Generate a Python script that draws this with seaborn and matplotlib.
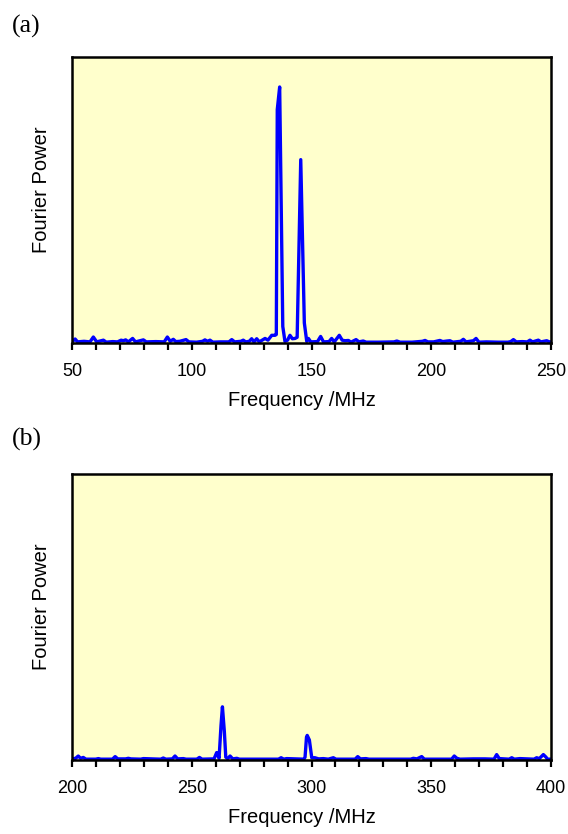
import matplotlib
matplotlib.use("Agg")
import matplotlib.pyplot as plt
import seaborn as sns
import pandas as pd
from matplotlib.ticker import MultipleLocator

# Spectrum (a): frequency in MHz and normalised Fourier power
freq_a = [50.0, 51.3, 52.3, 55.0, 57.5, 58.9, 60.3, 63.1, 64.3, 67.0, 69.0, 70.5,
          71.4, 72.4, 73.5, 75.3, 76.5, 79.8, 81.0, 85.0, 88.5, 89.8, 91.0, 92.3,
          93.3, 95.0, 97.6, 98.8, 102.0, 104.5, 105.5, 106.6, 107.6, 108.8, 112.0,
          115.5, 116.7, 117.9, 120.5, 121.5, 122.5, 124.0, 125.0, 126.0, 127.1,
          128.2, 130.6, 131.8, 133.4, 134.8, 135.3, 135.7, 136.7, 138.0, 138.9,
          140.0, 141.0, 142.0, 143.1, 144.0, 145.5, 147.0, 148.0, 148.7, 149.7,
          152.5, 153.8, 155.0, 157.3, 158.4, 159.5, 161.6, 162.8, 164.0, 165.4,
          166.5, 168.6, 169.8, 171.6, 172.8, 178.0, 184.5, 185.6, 187.0, 192.0,
          196.3, 197.4, 198.6, 201.0, 203.6, 204.8, 206.6, 207.8, 209.0, 212.3,
          213.4, 214.5, 217.6, 218.7, 219.9, 223.0, 228.0, 232.0, 233.2, 234.3,
          235.5, 238.0, 240.1, 241.2, 242.3, 244.7, 245.8, 248.2, 249.3, 250.0]
power_a = [0.004, 0.014, 0.004, 0.006, 0.004, 0.021, 0.004, 0.010, 0.003, 0.005, 0.004, 0.010,
           0.008, 0.011, 0.004, 0.016, 0.004, 0.011, 0.004, 0.005, 0.004, 0.021, 0.006, 0.013,
           0.005, 0.006, 0.012, 0.004, 0.003, 0.006, 0.011, 0.006, 0.010, 0.003, 0.004,
           0.004, 0.012, 0.004, 0.006, 0.010, 0.004, 0.006, 0.015, 0.004, 0.015,
           0.004, 0.016, 0.010, 0.027, 0.027, 0.030, 0.816, 0.895, 0.058, 0.006,
           0.010, 0.027, 0.015, 0.016, 0.020, 0.641, 0.070, 0.006, 0.016, 0.004,
           0.005, 0.023, 0.004, 0.005, 0.016, 0.004, 0.027, 0.010, 0.008, 0.009,
           0.003, 0.012, 0.004, 0.007, 0.003, 0.003, 0.004, 0.007, 0.003, 0.003,
           0.006, 0.009, 0.004, 0.004, 0.009, 0.005, 0.007, 0.008, 0.003, 0.006,
           0.013, 0.004, 0.008, 0.016, 0.003, 0.004, 0.003, 0.003, 0.005, 0.012,
           0.004, 0.005, 0.004, 0.010, 0.004, 0.010, 0.004, 0.008, 0.004, 0.004]

# Spectrum (b)
freq_b = [200.0, 201.5, 202.6, 203.6, 204.7, 205.8, 209.9, 211.0, 212.0, 216.9, 218.0,
          219.1, 222.4, 223.5, 224.6, 228.7, 229.8, 233.3, 237.0, 238.1, 239.2, 241.9,
          243.0, 244.1, 246.5, 247.6, 252.1, 253.2, 254.3, 259.3, 260.4, 261.4, 262.2,
          262.8, 263.6, 264.2, 265.0, 266.0, 267.1, 268.8, 269.9, 275.7, 279.2, 286.2,
          287.3, 288.4, 289.6, 296.8, 297.3, 297.9, 298.2, 299.1, 300.1, 301.4, 303.0,
          304.9, 307.0, 309.1, 310.2, 318.2, 319.3, 320.4, 322.7, 324.0, 341.4, 342.5,
          344.0, 346.0, 347.1, 358.5, 359.6, 360.7, 362.0, 367.6, 372.4, 376.2, 377.3,
          378.4, 382.5, 383.6, 384.7, 387.0, 392.9, 394.0, 395.1, 396.8, 397.9, 398.5,
          400.0]
power_b = [0.004, 0.006, 0.014, 0.006, 0.009, 0.003, 0.003, 0.005, 0.003, 0.003, 0.012,
           0.004, 0.004, 0.006, 0.004, 0.003, 0.005, 0.004, 0.003, 0.007, 0.003, 0.004,
           0.014, 0.004, 0.005, 0.003, 0.003, 0.009, 0.003, 0.004, 0.026, 0.006, 0.120,
           0.186, 0.100, 0.010, 0.005, 0.014, 0.004, 0.006, 0.003, 0.003, 0.003, 0.003,
           0.008, 0.003, 0.005, 0.003, 0.010, 0.080, 0.086, 0.070, 0.008, 0.008, 0.004,
           0.005, 0.003, 0.008, 0.003, 0.003, 0.012, 0.004, 0.005, 0.003, 0.003, 0.006,
           0.004, 0.012, 0.003, 0.003, 0.014, 0.006, 0.003, 0.004, 0.004, 0.003, 0.019,
           0.005, 0.003, 0.008, 0.003, 0.005, 0.003, 0.008, 0.005, 0.019, 0.010, 0.003,
           0.003]

xlim_a = (50, 250)
xlim_b = (200, 400)
major_step = 50
minor_step = 10

sns.set_style("white")
plt.rcParams["font.family"] = ["Liberation Sans", "DejaVu Sans"]
plt.rcParams["text.color"] = "black"
plt.rcParams["axes.labelcolor"] = "black"
plt.rcParams["xtick.color"] = "black"

fig = plt.figure(figsize=(5.68, 8.34), dpi=100)
ax_a = fig.add_axes([0.1268, 0.5887, 0.8433, 0.3430])
ax_b = fig.add_axes([0.1268, 0.0887, 0.8433, 0.3430])

panels = [(ax_a, freq_a, power_a, xlim_a, "(a)", 0.968),
          (ax_b, freq_b, power_b, xlim_b, "(b)", 0.473)]

for ax, f, p, xl, tag, ty in panels:
    df = pd.DataFrame({"Frequency": f, "Power": p})
    sns.lineplot(data=df, x="Frequency", y="Power", ax=ax, color="#0000FF",
                 linewidth=2.4, estimator=None, sort=False)
    ax.set_facecolor("#FFFFCC")
    ax.set_xlim(*xl)
    ax.set_ylim(0, 1)
    ax.set_yticks([])
    ax.xaxis.set_major_locator(MultipleLocator(major_step))
    ax.xaxis.set_minor_locator(MultipleLocator(minor_step))
    ax.tick_params(axis="x", which="both", direction="out", length=5, width=1.6,
                   color="black", labelcolor="black", bottom=True, labelsize=13,
                   pad=9.5)
    for s in ax.spines.values():
        s.set_visible(True)
        s.set_color("black")
        s.set_linewidth(1.8)
    ax.set_xlabel("Frequency /MHz", fontsize=14.5, labelpad=8, color="black")
    ax.set_ylabel("Fourier Power", fontsize=14.5, labelpad=15, color="black")
    ax.xaxis.label.set_x(0.481)
    ax.yaxis.label.set_y(0.535)
    fig.text(0.021, ty, tag, family=["Liberation Serif", "DejaVu Serif"],
             fontsize=18.5, ha="left", va="center", color="black")

fig.savefig("out.png", dpi=100)
